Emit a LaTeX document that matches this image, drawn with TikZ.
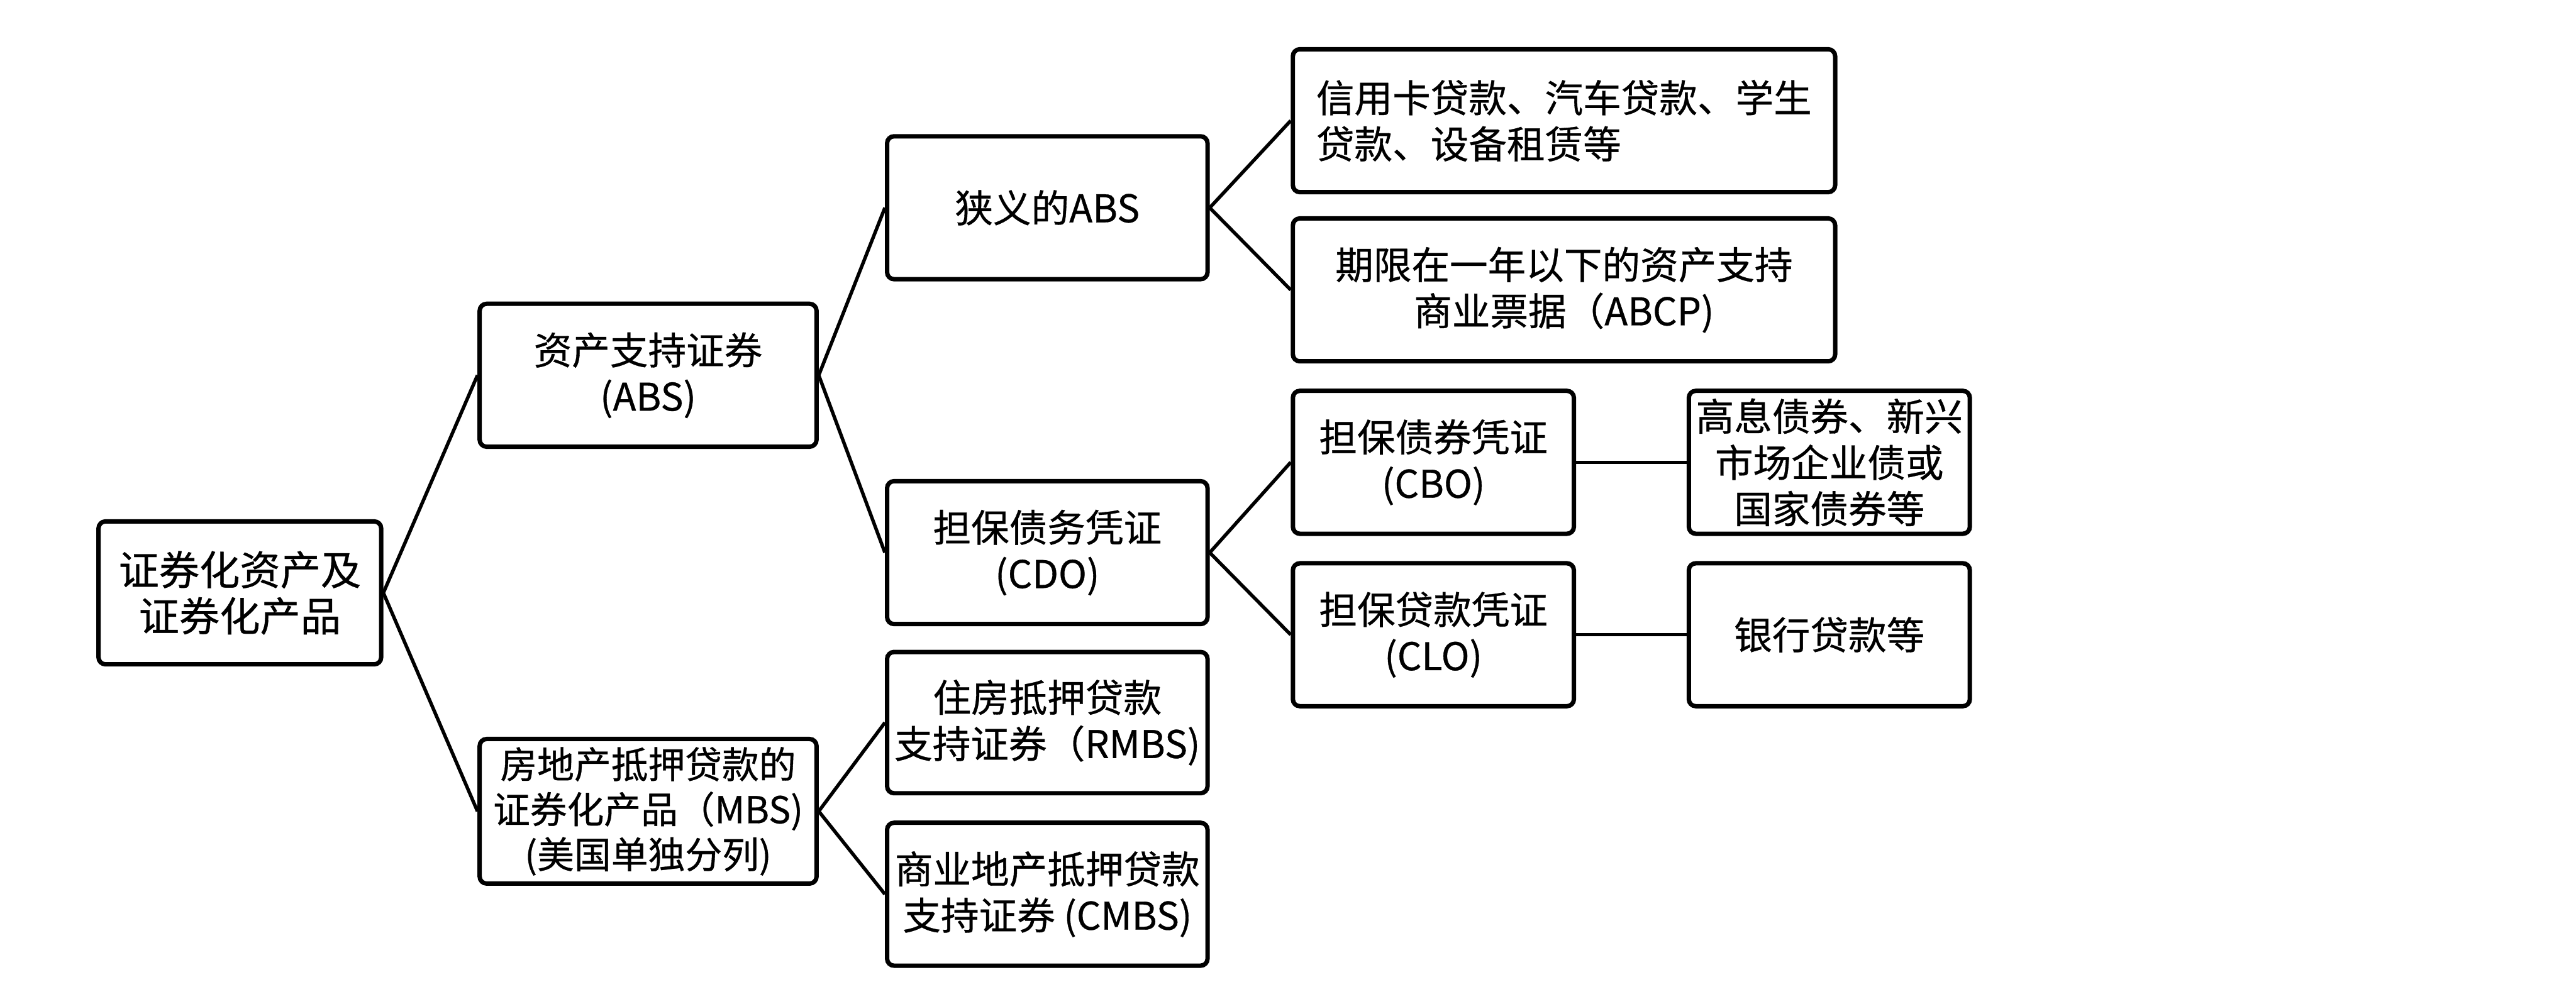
\documentclass[tikz,border=0pt]{standalone}
\usepackage{fontspec}
\usepackage{tikz}
\newfontfamily\cjk[FakeBold=0.6]{Noto Sans CJK SC}
\usetikzlibrary{positioning}

\begin{document}
\begin{tikzpicture}[x=0.025cm,y=-0.025cm,
    box/.style={draw,line width=1.9pt,rounded corners=3pt,minimum height=2.175cm,inner sep=0pt,align=center,font=\cjk\fontsize{16.5}{20}\selectfont},
    link/.style={line width=1.5pt}]
    \useasboundingbox (0,0) rectangle (1568,611);

    % levels from left to right
    \node[box,minimum width=4.3cm,font=\cjk\fontsize{17.5}{20}\selectfont] (root) at (146,361) {证券化资产及\\证券化产品};

    \node[box,minimum width=5.125cm] (abs) at (394.5,228.5) {资产支持证券\\(ABS)};
    \node[box,minimum width=5.125cm,minimum height=2.2cm,font=\cjk\fontsize{16}{19.5}\selectfont] (mbs) at (394.5,494) {房地产抵押贷款的\\证券化产品（MBS)\\(美国单独分列)};

    \node[box,minimum width=4.875cm] (nabs) at (637.5,126.5) {狭义的ABS};
    \node[box,minimum width=4.875cm] (cdo) at (637.5,336.5) {担保债务凭证\\(CDO)};
    \node[box,minimum width=4.875cm,minimum height=2.15cm] (rmbs) at (637.5,440) {住房抵押贷款\\支持证券（RMBS)};
    \node[box,minimum width=4.875cm] (cmbs) at (637.5,544.5) {商业地产抵押贷款\\支持证券 (CMBS)};

    \node[box,minimum width=8.25cm,align=left] (card) at (952,73.5) {信用卡贷款、汽车贷款、学生\\贷款、设备租赁等};
    \node[box,minimum width=8.25cm] (abcp) at (952,176.5) {期限在一年以下的资产支持\\商业票据（ABCP)};
    \node[box,minimum width=4.275cm] (cbo) at (872.5,281.5) {担保债券凭证\\(CBO)};
    \node[box,minimum width=4.275cm] (clo) at (872.5,386.5) {担保贷款凭证\\(CLO)};

    \node[box,minimum width=4.275cm] (bond) at (1113.5,281.5) {高息债券、新兴\\市场企业债或\\国家债券等};
    \node[box,minimum width=4.275cm] (bank) at (1113.5,386.5) {银行贷款等};

    % connectors
    \draw[link] (root.east) -- (abs.west);
    \draw[link] (root.east) -- (mbs.west);
    \draw[link] (abs.east) -- (nabs.west);
    \draw[link] (abs.east) -- (cdo.west);
    \draw[link] (mbs.east) -- (rmbs.west);
    \draw[link] (mbs.east) -- (cmbs.west);
    \draw[link] (nabs.east) -- (card.west);
    \draw[link] (nabs.east) -- (abcp.west);
    \draw[link] (cdo.east) -- (cbo.west);
    \draw[link] (cdo.east) -- (clo.west);
    \draw[link] (cbo.east) -- (bond.west);
    \draw[link] (clo.east) -- (bank.west);
\end{tikzpicture}
\end{document}
